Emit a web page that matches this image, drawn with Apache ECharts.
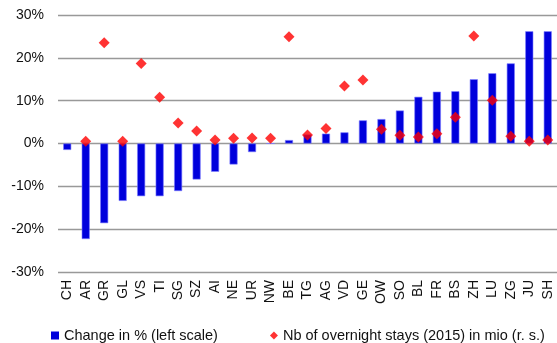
<!DOCTYPE html>
<html>
<head>
<meta charset="utf-8">
<script src="https://cdn.jsdelivr.net/npm/echarts@6/dist/echarts.min.js"></script>
<style>
  * { margin: 0; padding: 0; }
  html, body { background: #fff; }
  #chart { width: 557px; height: 343px; }
</style>
</head>
<body>
<div id="chart"></div>
<script>
// cantons, sorted by change
const cantons = ['CH', 'AR', 'GR', 'GL', 'VS', 'TI', 'SG', 'SZ', 'AI', 'NE', 'UR', 'NW', 'BE', 'TG',
  'AG', 'VD', 'GE', 'OW', 'SO', 'BL', 'FR', 'BS', 'ZH', 'LU', 'ZG', 'JU', 'SH']
// change in % (left scale)
const changePct = [-1.5, -22.3, -18.6, -13.4, -12.3, -12.3, -11.1, -8.4, -6.6, -4.9, -2.0, 0, 0.8, 2.1,
  2.3, 2.6, 5.4, 5.7, 7.7, 10.9, 12.1, 12.2, 15.0, 16.4, 18.7, 26.2, 26.2]
// overnight stays 2015, mio (right scale)
const staysMio = [null, 0.1, 4.7, 0.1, 3.74, 2.16, 0.96, 0.58, 0.16, 0.24, 0.26, 0.24, 4.98, 0.4,
  0.7, 2.68, 2.96, 0.66, 0.38, 0.3, 0.46, 1.22, 5.02, 2.02, 0.34, 0.1, 0.16]
const leftTicks = { min: -30, max: 30, step: 10 }
const rightTicks = { min: -6, max: 6 }

const chart = echarts.init(document.getElementById('chart'))
const font = 'Liberation Sans, Arial, sans-serif'

chart.setOption({
  animation: false,
  textStyle: { fontFamily: font },
  grid: { left: 58, right: 0, top: 15, bottom: 71 },
  legend: {
    left: 46,
    top: 323,
    itemGap: 52,
    itemWidth: 8,
    itemHeight: 8,
    textStyle: { fontSize: 14.5, color: '#111', fontFamily: font },
    data: [
      { name: 'Change in % (left scale)', icon: 'rect', itemStyle: { borderWidth: 0 } },
      { name: 'Nb of overnight stays (2015) in mio (r. s.)', icon: 'diamond' }
    ]
  },
  xAxis: {
    type: 'category',
    data: cantons,
    axisLine: { show: false },
    axisTick: { show: false },
    axisLabel: {
      rotate: 90,
      interval: 0,
      margin: 8,
      fontSize: 14,
      color: '#111',
      fontFamily: font
    }
  },
  yAxis: [
    {
      type: 'value',
      min: leftTicks.min,
      max: leftTicks.max,
      interval: leftTicks.step,
      axisLine: { show: false },
      axisTick: { show: false },
      axisLabel: { formatter: '{value}%', fontSize: 14, color: '#111', margin: 14, fontFamily: font },
      splitLine: { lineStyle: { color: '#999', width: 1.3 } }
    },
    {
      type: 'value',
      min: rightTicks.min,
      max: rightTicks.max,
      show: false,
      splitLine: { show: false }
    }
  ],
  series: [
    {
      name: 'Change in % (left scale)',
      type: 'bar',
      data: changePct,
      barWidth: 8,
      itemStyle: { color: '#0000dc', borderColor: '#7a7aff', borderWidth: 0.6 }
    },
    {
      name: 'Nb of overnight stays (2015) in mio (r. s.)',
      type: 'scatter',
      yAxisIndex: 1,
      data: staysMio,
      symbol: 'diamond',
      symbolSize: [11, 11],
      itemStyle: { color: '#ff0000' },
      z: 5
    }
  ]
})
</script>
</body>
</html>
